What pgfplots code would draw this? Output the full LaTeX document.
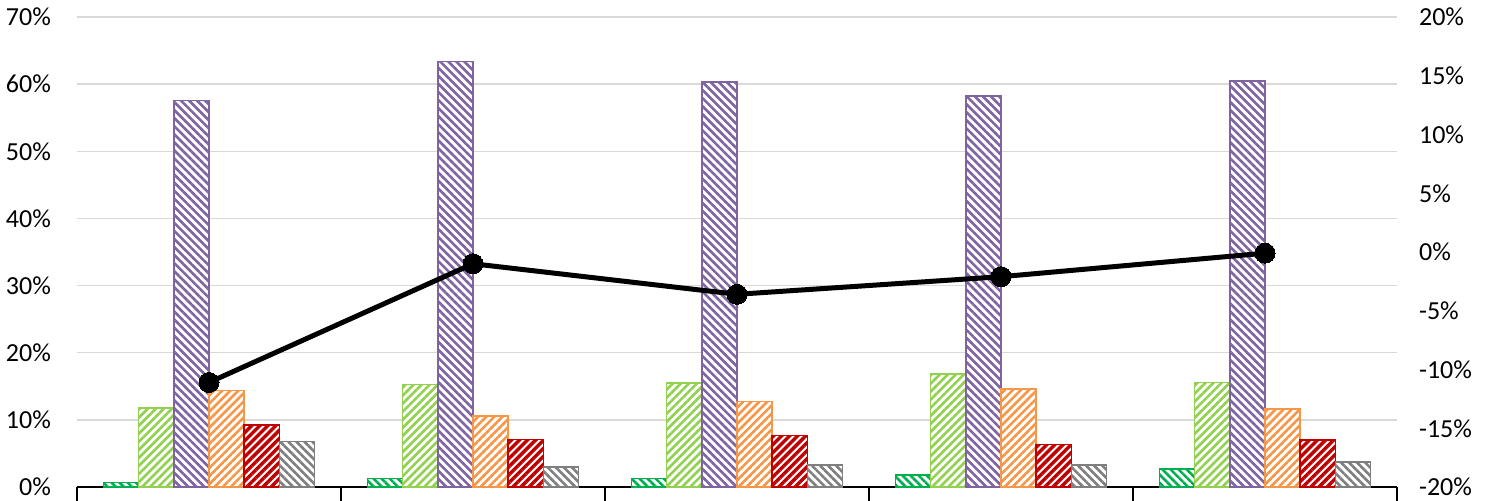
\documentclass[border=0pt]{standalone}
\usepackage{fontspec}
\setmainfont{Carlito}
\usepackage{pgfplots}
\pgfplotsset{compat=1.18}
\usetikzlibrary{patterns.meta}
\definecolor{cdg}{HTML}{00B050}
\definecolor{clg}{HTML}{92D050}
\definecolor{cpu}{HTML}{8064A2}
\definecolor{cor}{HTML}{F79646}
\definecolor{cre}{HTML}{C00000}
\definecolor{cgr}{HTML}{7F7F7F}
\definecolor{gridgray}{HTML}{D9D9D9}
\pgfplotsset{
  hbar/.style n args={3}{draw=#1, line width=0.75pt, fill=white,
    postaction={pattern={Lines[angle=#2, distance=2.85pt, line width=#3]}, pattern color=#1}},
}
\begin{document}
\begin{tikzpicture}
\useasboundingbox (-38.5pt,-6.5pt) rectangle (705pt,243.5pt);
\begin{axis}[
  at={(0,0)}, anchor=south west,
  scale only axis, width=660pt, height=235pt,
  xmin=-0.5, xmax=4.5, ymin=0, ymax=70,
  ybar=0pt, bar width=17.6pt,
  axis x line*=bottom, axis y line*=left,
  x axis line style={black, line width=0.75pt, -},
  y axis line style={draw=none},
  xtick={-0.5,0.5,1.5,2.5,3.5,4.5}, xticklabels={},
  xtick style={black, line width=0.75pt},
  tick align=outside, major tick length=8pt,
  ytick={0,10,20,30,40,50,60,70},
  yticklabels={0\%,10\%,20\%,30\%,40\%,50\%,60\%,70\%},
  ytick style={draw=none},
  ymajorgrids, grid style={draw=gridgray, line width=0.75pt},
  tick label style={font=\fontsize{13}{15}\selectfont},
  yticklabel style={xshift=-1.5pt},
  clip=false,
]
\addplot[hbar={cdg}{-45}{1.3pt}] coordinates {(0,0.7) (1,1.3) (2,1.3) (3,1.8) (4,2.7)};
\addplot[hbar={clg}{45}{1.3pt}] coordinates {(0,11.8) (1,15.3) (2,15.5) (3,16.8) (4,15.6)};
\addplot[hbar={cpu}{-45}{1.3pt}] coordinates {(0,57.6) (1,63.4) (2,60.3) (3,58.2) (4,60.5)};
\addplot[hbar={cor}{45}{1.3pt}] coordinates {(0,14.4) (1,10.6) (2,12.7) (3,14.6) (4,11.6)};
\addplot[hbar={cre}{45}{1.7pt}] coordinates {(0,9.2) (1,7.1) (2,7.7) (3,6.3) (4,7.0)};
\addplot[hbar={cgr}{-45}{1.3pt}] coordinates {(0,6.8) (1,3.0) (2,3.3) (3,3.3) (4,3.7)};
\end{axis}
\begin{axis}[
  at={(0,0)}, anchor=south west,
  scale only axis, width=660pt, height=235pt,
  xmin=-0.5, xmax=4.5, ymin=-20, ymax=20,
  axis x line=none, axis y line*=right,
  y axis line style={draw=none},
  ytick={-20,-15,-10,-5,0,5,10,15,20},
  yticklabels={-20\%,-15\%,-10\%,-5\%,0\%,5\%,10\%,15\%,20\%},
  ytick style={draw=none},
  tick label style={font=\fontsize{13}{15}\selectfont},
  yticklabel style={xshift=7.5pt},
  clip=false,
]
\addplot[black, line width=2.5pt, mark=*, mark size=5pt, mark options={line width=0pt, fill=black}]
  coordinates {(0,-11.1) (1,-1.0) (2,-3.6) (3,-2.1) (4,-0.1)};
\end{axis}
\end{tikzpicture}
\end{document}
